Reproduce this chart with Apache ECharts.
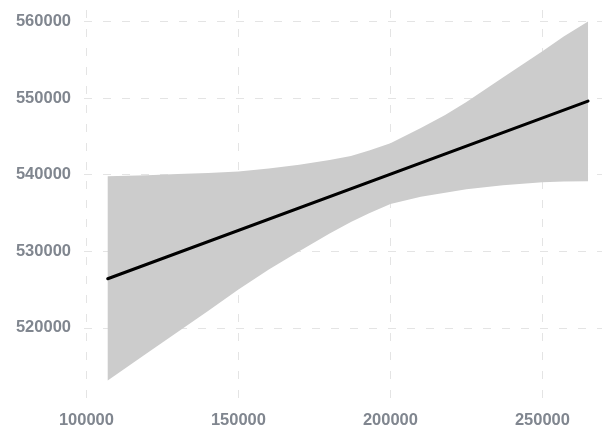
<!DOCTYPE html>
<html>
<head>
<meta charset="utf-8">
<script src="https://cdn.jsdelivr.net/npm/echarts@6/dist/echarts.min.js"></script>
<style>
html,body{margin:0;padding:0;background:#fff;}
#chart{width:602px;height:429px;}
</style>
</head>
<body>
<div id="chart"></div>
<script>
// Tick labels
const xTicks = [100000, 150000, 200000, 250000];
const yTicks = [520000, 530000, 540000, 550000, 560000];

// Confidence band
const bandX     = [107000, 120000, 130000, 140000, 150000, 160000, 170000, 180000, 187000, 193000, 200000, 210000, 218000, 225000, 237000, 250000, 257000, 265000];
const bandUpper = [539800, 539930, 540080, 540200, 540400, 540800, 541300, 541900, 542450, 543150, 544100, 546100, 547800, 549500, 552700, 556100, 558050, 560000];
const bandLower = [513100, 516700, 519450, 522200, 525000, 527600, 530000, 532300, 533800, 534950, 536150, 537100, 537650, 538100, 538600, 539000, 539100, 539150];

// Fitted line
const lineX = [107000, 265000];
const lineY = [526400, 549600];

const chart = echarts.init(document.getElementById('chart'), null, {renderer: 'canvas'});

const labelStyle = {
  color: '#80868f',
  fontFamily: 'Liberation Sans, Arial, sans-serif',
  fontSize: 16.5,
  fontWeight: 'bold',
  formatter: function (v) { return String(v); }
};
const gridLine = {show: true, lineStyle: {color: '#e4e4e4', width: 1, type: [8, 11]}};

chart.setOption({
  animation: false,
  backgroundColor: '#ffffff',
  grid: {left: 84, right: 0, top: 10, bottom: 29, containLabel: false},
  xAxis: {
    type: 'value',
    min: 99200,
    max: 269600,
    axisLine: {show: false},
    axisTick: {show: false, customValues: xTicks},
    axisLabel: Object.assign({customValues: xTicks, margin: 13}, labelStyle),
    splitLine: gridLine
  },
  yAxis: {
    type: 'value',
    min: 510700,
    max: 561500,
    axisLine: {show: false},
    axisTick: {show: false, customValues: yTicks},
    axisLabel: Object.assign({customValues: yTicks, margin: 13}, labelStyle),
    splitLine: gridLine
  },
  series: [
    {
      type: 'custom',
      silent: true,
      encode: {x: 0, y: [1, 2]},
      data: bandX.map((x, i) => [x, bandLower[i], bandUpper[i]]),
      renderItem: function (params, api) {
        if (params.dataIndex !== 0) return null;
        const pts = [];
        for (let i = 0; i < bandX.length; i++) pts.push(api.coord([bandX[i], bandUpper[i]]));
        for (let i = bandX.length - 1; i >= 0; i--) pts.push(api.coord([bandX[i], bandLower[i]]));
        return {type: 'polygon', shape: {points: pts}, style: {fill: '#cccccc'}};
      },
      z: 2
    },
    {
      type: 'line',
      data: lineX.map((x, i) => [x, lineY[i]]),
      showSymbol: false,
      lineStyle: {color: '#000000', width: 3, cap: 'round'},
      z: 3
    }
  ]
});
</script>
</body>
</html>
